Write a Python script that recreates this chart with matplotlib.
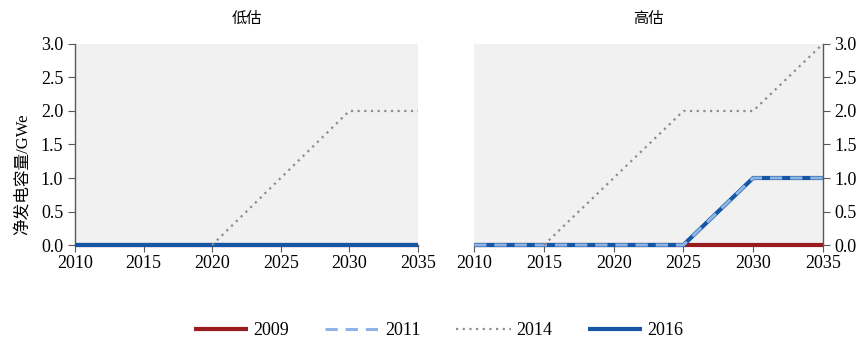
import numpy as np
import matplotlib
matplotlib.use("Agg")
import matplotlib.pyplot as plt

plt.rcParams['font.family'] = ['Liberation Serif', 'Noto Sans CJK SC']

years = [2010, 2015, 2020, 2025, 2030, 2035]
nan = np.nan

# 低估
low_2009 = [0, 0, 0, 0, 0, 0]
low_2011 = [nan, nan, nan, nan, nan, nan]
low_2014 = [nan, nan, 0, 1, 2, 2]
low_2016 = [0, 0, 0, 0, 0, 0]

# 高估
high_2009 = [0, 0, 0, 0, 0, 0]
high_2011 = [0, 0, 0, 0, 1, 1]
high_2014 = [nan, 0, 1, 2, 2, 3]
high_2016 = [0, 0, 0, 0, 1, 1]

titles = ["低估", "高估"]
ylabel = "净发电容量/GWe"

c_red = "#981B1E"
c_light = "#8DB4E2"
c_grey = "#8C8C8C"
c_dark = "#1557A6"
spine_c = "#595959"

fig = plt.figure(figsize=(8.67, 3.41), dpi=100)
ax1 = fig.add_axes([0.0865, 0.2815, 0.3955, 0.5895])
ax2 = fig.add_axes([0.547, 0.2815, 0.402, 0.5895])


def draw(ax, d09, d11, d14, d16):
    l1, = ax.plot(years, d09, color=c_red, lw=3, clip_on=False, solid_capstyle='butt', zorder=3)
    l4, = ax.plot(years, d16, color=c_dark, lw=3, clip_on=False, solid_capstyle='butt', zorder=4)
    l2, = ax.plot(years, d11, color=c_light, lw=2.2, clip_on=False, dashes=(4, 2.6),
                  dash_capstyle='butt', zorder=5)
    l3, = ax.plot(years, d14, color=c_grey, lw=1.6, clip_on=False, dashes=(1, 2),
                  zorder=6)
    return l1, l2, l3, l4


handles = draw(ax1, low_2009, low_2011, low_2014, low_2016)
draw(ax2, high_2009, high_2011, high_2014, high_2016)

for ax, t in zip([ax1, ax2], titles):
    ax.set_facecolor("#F0F1F0")
    ax.set_xlim(2010, 2035)
    ax.set_ylim(0, 3.0)
    ax.set_xticks(years)
    ax.set_yticks([0, 0.5, 1.0, 1.5, 2.0, 2.5, 3.0])
    ax.set_yticklabels(["0.0", "0.5", "1.0", "1.5", "2.0", "2.5", "3.0"])
    ax.spines['top'].set_visible(False)
    for s in ax.spines.values():
        s.set_color(spine_c)
        s.set_linewidth(1)
    ax.tick_params(axis='both', labelsize=13, color=spine_c, length=5, direction='out')
    ax.tick_params(axis='x', pad=2)
    ax.set_title(t, fontsize=11, pad=15)

ax1.spines['right'].set_visible(False)
ax2.spines['left'].set_visible(False)
ax2.yaxis.tick_right()
ax1.set_ylabel(ylabel, fontsize=12)
ax1.yaxis.set_label_coords(-0.13, 0.35)

fig.legend(handles, ["2009", "2011", "2014", "2016"], loc='center', ncol=4,
           bbox_to_anchor=(0.506, 0.03), frameon=False, fontsize=13,
           handlelength=3.0, columnspacing=2.0, handletextpad=0.3)

fig.savefig("out.png", dpi=100)
